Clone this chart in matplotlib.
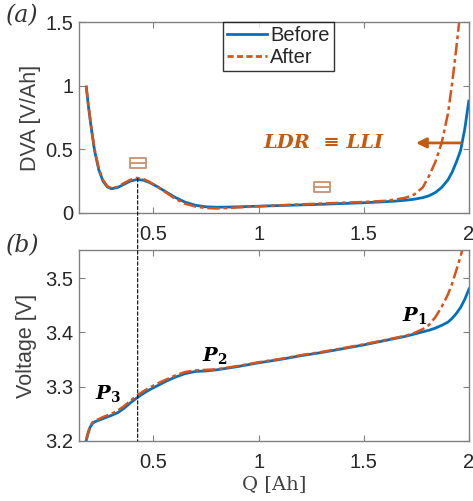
import matplotlib
matplotlib.use("Agg")
import matplotlib.pyplot as plt
from matplotlib.lines import Line2D
from matplotlib.patches import ConnectionPatch
from matplotlib.path import Path

# ---------------- data ----------------
Q = [0.18, 0.19, 0.20, 0.21, 0.22, 0.24, 0.26, 0.28, 0.30, 0.33, 0.36, 0.39,
     0.42, 0.45, 0.48, 0.52, 0.56, 0.60, 0.65, 0.70, 0.75, 0.80, 0.85, 0.90,
     1.0, 1.1, 1.2, 1.3, 1.4, 1.5, 1.6, 1.65, 1.70, 1.74, 1.78, 1.81, 1.84,
     1.87, 1.90, 1.92, 1.94, 1.96, 1.98, 2.0]

dva_before = [1.0, 0.85, 0.72, 0.60, 0.49, 0.34, 0.25, 0.205, 0.19, 0.20, 0.225, 0.25,
              0.262, 0.258, 0.24, 0.205, 0.165, 0.125, 0.085, 0.06, 0.048, 0.045, 0.046, 0.048,
              0.053, 0.058, 0.063, 0.068, 0.074, 0.08, 0.088, 0.093, 0.10, 0.108, 0.12, 0.135, 0.16,
              0.20, 0.26, 0.32, 0.40, 0.49, 0.66, 0.89]

dva_after = [1.0, 0.86, 0.73, 0.61, 0.50, 0.35, 0.26, 0.21, 0.195, 0.205, 0.235, 0.26,
             0.275, 0.268, 0.245, 0.205, 0.16, 0.115, 0.072, 0.05, 0.038, 0.035, 0.038, 0.043,
             0.052, 0.06, 0.067, 0.074, 0.08, 0.086, 0.095, 0.105, 0.12, 0.145, 0.2, 0.29, 0.40,
             0.55, 0.78, 1.02, 1.3, 1.6, 1.9, 2.2]

v_before = [3.200, 3.215, 3.226, 3.232, 3.235, 3.238, 3.241, 3.244, 3.247, 3.252, 3.260, 3.270,
            3.279, 3.287, 3.294, 3.302, 3.310, 3.317, 3.324, 3.328, 3.329, 3.331, 3.334, 3.337,
            3.344, 3.350, 3.357, 3.363, 3.370, 3.377, 3.385, 3.389, 3.393, 3.397, 3.401, 3.404, 3.408,
            3.413, 3.419, 3.426, 3.435, 3.446, 3.461, 3.480]

v_after = [3.202, 3.217, 3.228, 3.234, 3.237, 3.240, 3.244, 3.247, 3.250, 3.256, 3.264, 3.274,
           3.283, 3.291, 3.298, 3.306, 3.313, 3.320, 3.327, 3.330, 3.331, 3.332, 3.335, 3.338,
           3.345, 3.351, 3.358, 3.364, 3.371, 3.378, 3.386, 3.390, 3.394, 3.399, 3.406, 3.414, 3.428,
           3.447, 3.470, 3.490, 3.515, 3.540, 3.570, 3.600]

series_labels = ["Before", "After"]
x_ticks = [0.5, 1, 1.5, 2]
x_ticklabels = ["0.5", "1", "1.5", "2"]
dva_ticks = [0, 0.5, 1, 1.5]
dva_ticklabels = ["0", "0.5", "1", "1.5"]
v_ticks = [3.2, 3.3, 3.4, 3.5]
v_ticklabels = ["3.2", "3.3", "3.4", "3.5"]

marker_q = [0.425, 1.3]
marker_dva = [0.39, 0.2]
peak_q = 0.425
peak_dva = 0.27

p_labels = [r"$\mathbfit{P}_{\mathbf{1}}$", r"$\mathbfit{P}_{\mathbf{2}}$", r"$\mathbfit{P}_{\mathbf{3}}$"]
p_q = [1.74, 0.79, 0.285]
p_v = [3.432, 3.357, 3.288]

# ---------------- style ----------------
BLUE = "#0072BD"
ORANGE = "#D95319"
TXT_OR = "#C55A11"
SPINE = "#808080"
TICKC = "#262626"

plt.rcParams["font.family"] = ["Liberation Sans", "DejaVu Sans"]
plt.rcParams["mathtext.fontset"] = "dejavuserif"

fig = plt.figure(figsize=(4.73, 5.01), dpi=100)
ax1 = fig.add_axes([0.167, 0.575, 0.8245, 0.381])
ax2 = fig.add_axes([0.167, 0.120, 0.8245, 0.381])

xlim = (0.146, 2.0)

for ax in (ax1, ax2):
    ax.set_xlim(*xlim)
    for s in ax.spines.values():
        s.set_color(SPINE)
        s.set_linewidth(1.0)
    ax.tick_params(direction="in", top=True, right=True, length=4, width=0.8,
                   color=SPINE, labelcolor=TICKC, labelsize=14.5)
    ax.tick_params(axis="x", pad=9)
    ax.tick_params(axis="y", pad=4)
    ax.set_xticks(x_ticks)
    ax.set_xticklabels(x_ticklabels)

# DVA
ax1.plot(Q, dva_before, color=BLUE, lw=2.0, solid_capstyle="butt")
ax1.plot(Q, dva_after, color=ORANGE, lw=1.8, linestyle=(0, (5, 1.5, 1.5, 1.5)))
ax1.set_ylim(0, 1.5)
ax1.set_yticks(dva_ticks)
ax1.set_yticklabels(dva_ticklabels)
ax1.set_ylabel("DVA [V/Ah]", fontsize=15.5, color="#404040", labelpad=3)

# box marker (rectangle with midline)
verts = [(-1.0, -0.6), (1.0, -0.6), (1.0, 0.6), (-1.0, 0.6), (-1.0, -0.6),
         (-1.0, 0.0), (1.0, 0.0)]
codes = [Path.MOVETO, Path.LINETO, Path.LINETO, Path.LINETO, Path.CLOSEPOLY,
         Path.MOVETO, Path.LINETO]
box_marker = Path(verts, codes)
ax1.plot(marker_q, marker_dva, linestyle="none", marker=box_marker, markersize=12,
         markerfacecolor="none", markeredgecolor="#C8906E", markeredgewidth=1.3)

# legend
handles = [Line2D([], [], color=BLUE, lw=2.0),
           Line2D([], [], color=ORANGE, lw=2.0, linestyle=(0, (2.2, 1.2)))]
leg = ax1.legend(handles, series_labels, loc="upper left", bbox_to_anchor=(0.369, 1.0),
                 borderaxespad=0, fontsize=14.5, frameon=True, fancybox=False,
                 handlelength=2.0, handletextpad=0.15, borderpad=0.2, labelspacing=0.15)
leg.get_frame().set_edgecolor("black")
leg.get_frame().set_linewidth(1.0)
for t in leg.get_texts():
    t.set_color(TICKC)

# annotation LDR ≡ LLI
ax1.text(1.31, 0.55, "LDR  \u2261 LLI", color=TXT_OR, fontsize=14, fontweight="bold",
         fontstyle="italic", family="DejaVu Serif", ha="center", va="center")
ax1.annotate("", xy=(1.735, 0.55), xytext=(1.975, 0.55),
             arrowprops=dict(arrowstyle="-|>", color=TXT_OR, lw=2.0, mutation_scale=15))

# Voltage
ax2.plot(Q, v_before, color=BLUE, lw=2.0)
ax2.plot(Q, v_after, color=ORANGE, lw=1.8, linestyle=(0, (5, 1.5, 1.5, 1.5)))
ax2.set_ylim(3.2, 3.552)
ax2.set_yticks(v_ticks)
ax2.set_yticklabels(v_ticklabels)
ax2.set_ylabel("Voltage [V]", fontsize=15.5, color="#404040", labelpad=6)
ax2.set_xlabel("Q [Ah]", fontsize=14, color="#404040", family="DejaVu Serif", labelpad=2)

for lab, q, v in zip(p_labels, p_q, p_v):
    ax2.text(q, v, lab, fontsize=14, color="black", ha="center", va="center")

# vertical dashed line across both axes
con = ConnectionPatch(xyA=(peak_q, peak_dva), coordsA=ax1.transData,
                      xyB=(peak_q, 3.2), coordsB=ax2.transData,
                      color="black", lw=0.8, linestyle=(0, (3, 2)))
fig.add_artist(con)

fig.text(0.012, 0.968, "(a)", fontsize=17, fontstyle="italic", family="DejaVu Serif",
         color="#333333", va="center")
fig.text(0.012, 0.510, "(b)", fontsize=17, fontstyle="italic", family="DejaVu Serif",
         color="#333333", va="center")

fig.savefig("out.png", dpi=100)
